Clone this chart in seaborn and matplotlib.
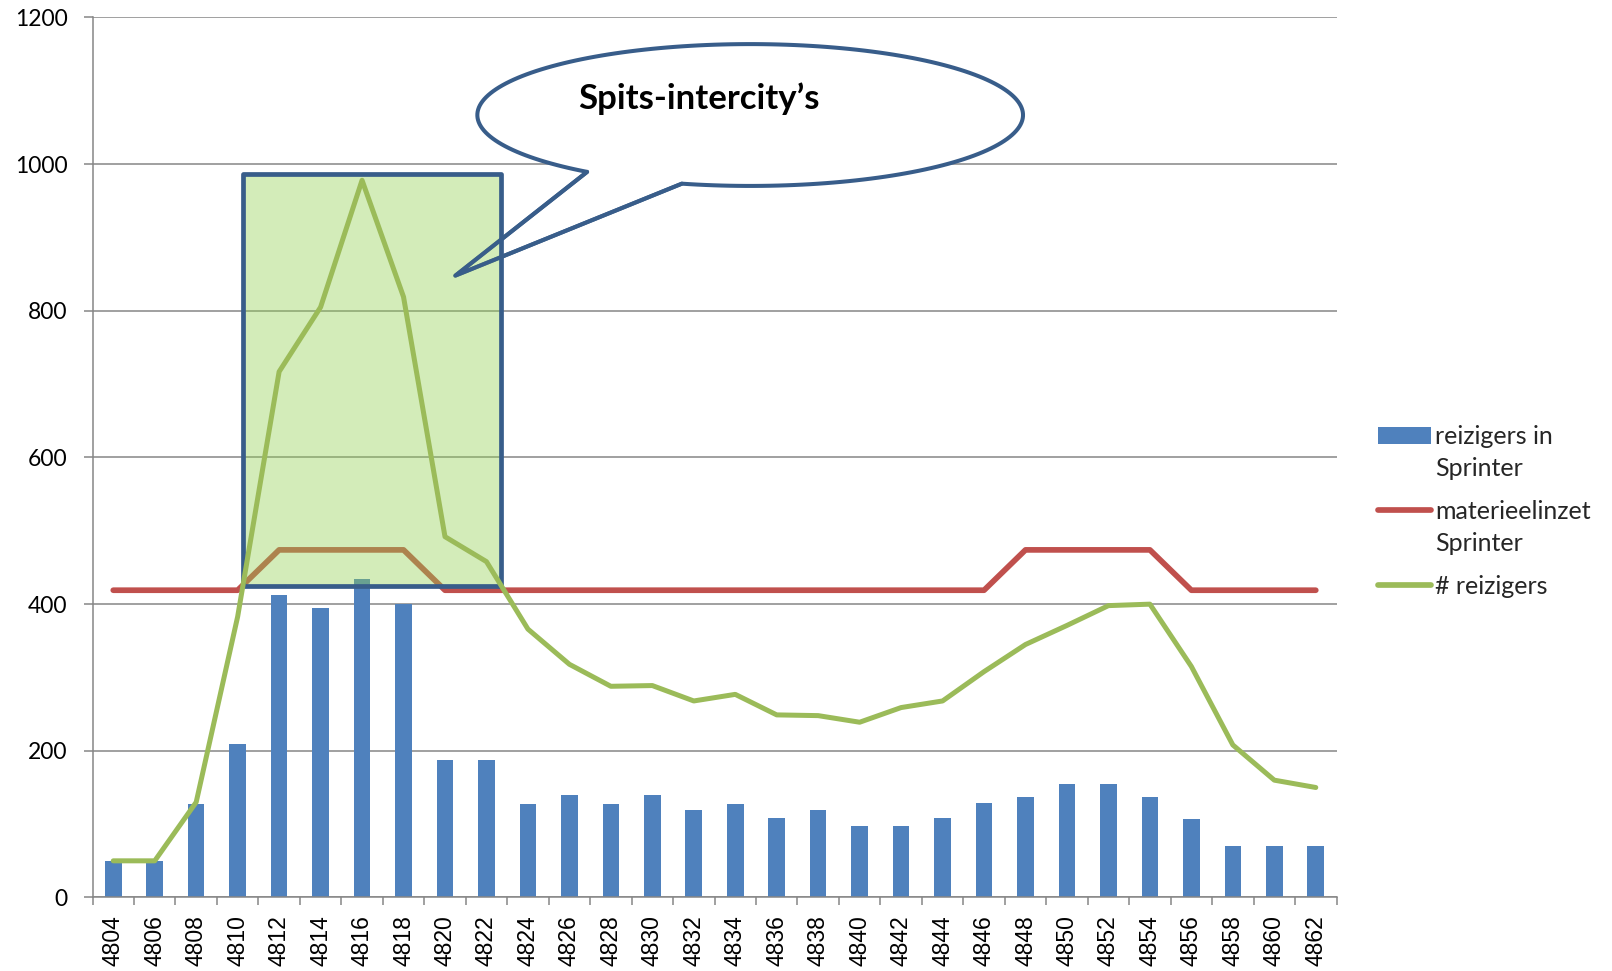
import numpy as np
import pandas as pd
import matplotlib
matplotlib.use("Agg")
import matplotlib.pyplot as plt
import seaborn as sns
from matplotlib.patches import Rectangle, Patch, PathPatch
from matplotlib.path import Path
from matplotlib.lines import Line2D
from matplotlib.legend_handler import HandlerLine2D, HandlerPatch
from matplotlib.colors import to_rgba

# train numbers (x categories)
treinen = ['4804', '4806', '4808', '4810', '4812', '4814', '4816', '4818', '4820', '4822',
           '4824', '4826', '4828', '4830', '4832', '4834', '4836', '4838', '4840', '4842',
           '4844', '4846', '4848', '4850', '4852', '4854', '4856', '4858', '4860', '4862']

# reizigers in Sprinter (bars)
reizigers_sprinter = [50, 50, 128, 209, 412, 395, 434, 400, 188, 188,
                      128, 140, 128, 140, 119, 128, 109, 119, 98, 98,
                      109, 129, 137, 155, 155, 137, 107, 70, 70, 70]

# materieelinzet Sprinter (red line)
materieelinzet = [419, 419, 419, 419, 474, 474, 474, 474, 419, 419,
                  419, 419, 419, 419, 419, 419, 419, 419, 419, 419,
                  419, 419, 474, 474, 474, 474, 419, 419, 419, 419]

# # reizigers (green line)
reizigers_totaal = [50, 50, 130, 383, 717, 805, 978, 819, 492, 458,
                    366, 318, 288, 289, 268, 277, 249, 248, 239, 259,
                    268, 308, 345, 371, 398, 400, 315, 208, 160, 150]

legend_labels = ['reizigers in\nSprinter', 'materieelinzet\nSprinter', '# reizigers']
callout_text = 'Spits-intercity\u2019s'

BLUE = '#4F81BD'
RED = '#C0504D'
GREEN = '#9BBB59'
GRID = '#868686'
SHAPE_EDGE = '#385D8A'
HIGHLIGHT = '#92D050'

# annotation geometry (category index / value units)
HL_X, HL_Y, HL_W, HL_H = 3.12, 425, 6.22, 561
ELL_CX, ELL_CY, ELL_A, ELL_B = 15.36, 1067, 6.58, 96.7
TAIL_ANGLES = (-104.5, -126.7)
TAIL_TIP = (8.25, 848)
TEXT_POS = (14.13, 1089)


class LiftedLine(HandlerLine2D):
    def __init__(self, lift=0.0, **kw):
        super().__init__(**kw)
        self.lift = lift

    def create_artists(self, legend, orig_handle, xdescent, ydescent, width, height, fontsize, trans):
        return super().create_artists(legend, orig_handle, xdescent, ydescent - 2 * self.lift * fontsize,
                                      width, height, fontsize, trans)


class LiftedPatch(HandlerPatch):
    def __init__(self, lift=0.0, **kw):
        super().__init__(**kw)
        self.lift = lift

    def create_artists(self, legend, orig_handle, xdescent, ydescent, width, height, fontsize, trans):
        return super().create_artists(legend, orig_handle, xdescent, ydescent - self.lift * fontsize,
                                      width, height, fontsize, trans)


def main():
    sns.set_theme(style="white")
    plt.rcParams['font.family'] = ['Liberation Sans', 'DejaVu Sans']

    df = pd.DataFrame({'trein': treinen, 'sprinter': reizigers_sprinter,
                       'inzet': materieelinzet, 'totaal': reizigers_totaal})
    df['pos'] = np.arange(len(df))

    fig = plt.figure(figsize=(16.12, 9.71), dpi=100)
    ax = fig.add_axes([0.0574, 0.0757, 0.7717, 0.9063])

    sns.barplot(data=df, x='trein', y='sprinter', color=BLUE, saturation=1,
                width=0.4, linewidth=0, ax=ax, zorder=2)
    sns.lineplot(data=df, x='pos', y='inzet', color=RED, linewidth=4.1, ax=ax,
                 zorder=3, legend=False, solid_capstyle='round')
    sns.lineplot(data=df, x='pos', y='totaal', color=GREEN, linewidth=3.6, ax=ax,
                 zorder=6, legend=False, solid_capstyle='round')

    # highlight box
    ax.add_patch(Rectangle((HL_X, HL_Y), HL_W, HL_H, facecolor=to_rgba(HIGHLIGHT, 0.4),
                           edgecolor=SHAPE_EDGE, linewidth=3.4, joinstyle='round', zorder=5))

    # callout balloon
    t2, t1 = np.radians(TAIL_ANGLES[0]), np.radians(TAIL_ANGLES[1]) + 2 * np.pi
    ang = np.linspace(t2, t1, 200)
    verts = list(zip(ELL_CX + ELL_A * np.cos(ang), ELL_CY + ELL_B * np.sin(ang)))
    verts.append(TAIL_TIP)
    verts.append(verts[0])
    codes = [Path.MOVETO] + [Path.LINETO] * (len(verts) - 2) + [Path.CLOSEPOLY]
    ax.add_patch(PathPatch(Path(verts, codes), facecolor='white', edgecolor=SHAPE_EDGE,
                           linewidth=2.9, joinstyle='round', zorder=4))
    # tail outline again above the highlight box so it stays dark blue there
    tail = [verts[-3], verts[-2], verts[0]]
    ax.plot([p[0] for p in tail], [p[1] for p in tail], color=SHAPE_EDGE, linewidth=2.9,
            solid_joinstyle='round', zorder=5.5)
    ax.text(TEXT_POS[0], TEXT_POS[1], callout_text, ha='center', va='center',
            fontsize=25, fontweight='bold', family=['Lato', 'DejaVu Sans'], color='black', zorder=7)

    ax.set_xlim(-0.5, len(treinen) - 0.5)
    ax.set_ylim(0, 1200)
    ax.set_yticks(np.arange(0, 1201, 200))
    ax.set_xlabel('')
    ax.set_ylabel('')

    ax.set_axisbelow(True)
    ax.yaxis.grid(True, color=GRID, linewidth=1.1)
    ax.xaxis.grid(False)
    for side in ['top', 'right']:
        ax.spines[side].set_visible(False)
    for side in ['left', 'bottom']:
        ax.spines[side].set_color(GRID)
        ax.spines[side].set_linewidth(1.1)

    ax.tick_params(axis='y', which='major', left=True, length=6.5, width=1.1, color=GRID,
                   labelsize=16.5, pad=11.5, labelcolor='black')
    for lbl in ax.get_yticklabels():
        lbl.set_family(['Lato', 'DejaVu Sans'])
    ax.set_xticks(np.arange(-0.5, len(treinen)), minor=True)
    ax.tick_params(axis='x', which='minor', bottom=True, length=6, width=1.1, color=GRID)
    ax.tick_params(axis='x', which='major', bottom=True, length=0, labelsize=16.5, pad=13,
                   labelrotation=90, labelcolor='black')

    handles = [Patch(facecolor=BLUE, edgecolor='none'),
               Line2D([], [], color=RED, linewidth=4.1, solid_capstyle='round'),
               Line2D([], [], color=GREEN, linewidth=4.1, solid_capstyle='round')]
    leg = fig.legend(handles, legend_labels, loc='upper left', bbox_to_anchor=(0.8546, 0.562),
                     frameon=False, borderpad=0, borderaxespad=0, handlelength=2.15,
                     handletextpad=0.15, labelspacing=0.8,
                     prop={'family': ['Lato', 'DejaVu Sans'], 'size': 18},
                     handler_map={handles[0]: LiftedPatch(lift=0.72),
                                  handles[1]: LiftedLine(lift=0.72)})
    for txt in leg.get_texts():
        txt.set_linespacing(1.46)

    fig.savefig('out.png', dpi=100, facecolor='white')


if __name__ == "__main__":
    main()
